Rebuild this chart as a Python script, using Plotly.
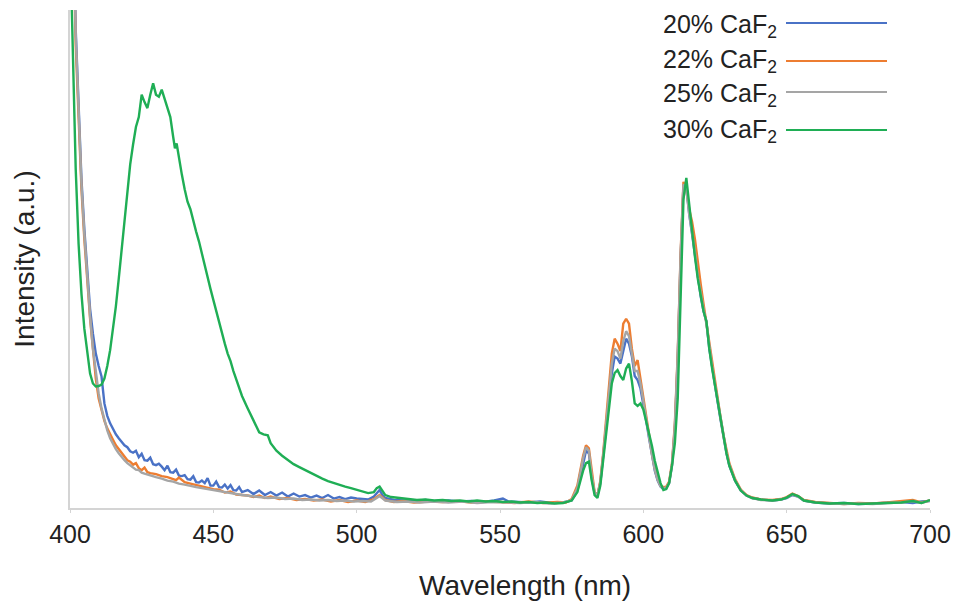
import plotly.graph_objects as go

# ---------------- data ----------------
series_names = ["20% CaF<sub>2</sub>", "22% CaF<sub>2</sub>", "25% CaF<sub>2</sub>", "30% CaF<sub>2</sub>"]
series_colors = ["#4a72c6", "#ed7d31", "#a5a5a5", "#1fae55"]

wl_20 = [400,401,402,403,404,405,406,407,408,409,410,411,412,413,414,415,416,417,418,419,420,421,422,423,424,425,426,427,428,429,430,431,432,433,434,435,436,437,438,439,440,441,442,443,444,445,446,447,448,449,450,451,452,453,454,455,456,457,458,459,460,462,464,466,468,470,472,474,476,478,480,482,484,486,488,490,492,494,496,498,500,502,504,506,507,508,509,510,513,516,520,524,528,532,536,540,544,548,551,553,556,560,564,568,572,575,577,579,580,581,582,583,584,585,586,587,588,589,590,591,592,593,594,595,596,597,598,599,600,601,602,603,604,605,606,607,608,609,610,611,612,613,614,615,616,617,618,619,620,621,622,623,624,625,626,627,628,629,630,632,634,636,638,641,645,648,650,652,654,656,660,665,670,675,680,685,690,694,697,700]
int_20 = [170,125,96,79,66,56,47,40,35,31,28.5,26.4,21,18.5,17,15.8,14.8,14,13.2,12.6,12.2,11.4,11.1,11.5,10.2,10.9,9.6,9.5,10.1,8.8,8.6,8.9,8.3,7.6,8.5,7.2,7.1,7.7,6.5,6.4,6.6,5.8,5.7,6.4,5.2,5.1,5.5,5.0,6.0,4.5,4.5,5.3,4.2,4.1,4.7,3.9,4.6,3.6,3.5,4.2,3.2,3.6,2.8,3.5,2.6,3.2,2.5,3.1,2.3,2.9,2.3,2.6,2.1,2.5,2.0,2.6,1.9,2.2,1.8,2.1,1.9,1.8,1.7,2.3,3.0,3.6,2.6,2.0,1.6,1.5,1.4,1.6,1.3,1.5,1.3,1.4,1.2,1.5,1.9,1.3,1.2,1.1,1.3,1.0,1.1,1.5,3.5,9,11.5,11,6,3,2.6,5,10,16,22,27,30.4,30,29,31.5,34,33,30.5,26.5,25.7,24,21,17.5,14,10.5,7.5,5.5,4.3,3.8,4.0,5,8.5,16,30,50,65,64.5,59,55,51,46,42.5,39.5,37.5,32,28,24.5,21,17.5,14,11,8.5,5.5,3.5,2.5,2,1.7,1.5,1.7,2.0,2.6,2.3,1.5,1.1,0.9,1.0,0.8,0.9,1.0,1.2,1.0,1.3,1.4]

wl_22 = [400,401,402,403,404,405,406,407,408,409,410,411,412,413,414,415,416,417,418,419,420,421,422,423,424,425,426,427,428,430,432,434,436,437,438,440,442,444,446,448,450,452,454,456,458,460,462,464,466,468,470,473,476,479,482,485,488,491,494,497,500,503,506,508,510,513,516,520,525,530,535,540,545,550,555,560,565,570,573,575,577,579,580,581,582,583,584,585,586,587,588,589,590,591,592,593,594,595,596,597,598,599,600,601,602,603,604,605,606,607,608,609,610,611,612,613,614,615,616,617,618,619,620,621,622,623,624,625,626,627,628,629,630,632,634,636,638,641,645,648,650,652,654,656,660,665,670,675,680,685,690,694,697,700]
int_22 = [160,120,93,77,64,54,45,38,32,26,22,19.5,17.5,16,14.7,13.7,12.6,11.8,11,10.3,9.6,9.3,8.7,9.0,8.0,7.6,8.1,7.2,7.0,6.8,6.4,6.2,5.8,5.6,6.1,5.2,4.9,4.6,4.4,4.0,3.8,3.7,3.1,3.3,2.7,2.6,2.5,2.2,2.5,2.0,2.3,1.8,2.0,1.6,1.8,1.5,1.7,1.3,1.6,1.2,1.5,1.2,1.8,2.6,1.6,1.2,1.4,1.1,1.3,1.2,1.4,1.1,1.3,1.2,1.0,1.3,1.0,1.2,1.1,1.8,4.5,10.5,12.6,12,7,3.2,2.5,5.5,11,18,25,31,34,33,31.5,37,38,37,32,28.5,29.7,26,22,18,14.5,11,8,5.8,4.5,4.2,4.3,5.3,9,17,31,51,65.5,64,60,57.5,54,49,45,41,37,33,29,25,21.5,18,14.5,11.5,9,5.8,3.7,2.6,2.1,1.7,1.6,1.8,2.2,2.9,2.4,1.6,1.2,1.0,0.8,1.0,0.9,1.1,1.3,1.6,1.1,1.5]

wl_25 = [400,401,402,403,404,405,406,407,408,409,410,411,412,413,414,415,416,417,418,419,420,421,422,423,424,425,426,428,430,432,434,436,438,440,442,444,446,448,450,452,454,456,458,460,463,466,469,472,475,478,481,484,487,490,493,496,499,502,505,507,508,510,514,518,522,527,532,537,542,547,552,557,562,567,572,575,577,579,580,581,582,583,584,585,586,587,588,589,590,591,592,593,594,595,596,597,598,599,600,601,602,603,604,605,606,607,608,609,610,611,612,613,614,615,616,617,618,619,620,621,622,623,624,625,626,627,628,629,630,632,634,636,638,641,645,648,650,652,654,656,660,665,670,675,680,685,690,694,697,700]
int_25 = [165,122,95,78,65,55,46,38.5,32,27,23,20,17.5,15.6,14,12.8,11.8,11,10.2,9.6,9.0,8.6,8.1,7.7,7.6,7.1,6.9,6.5,6.2,5.9,5.5,5.3,4.9,4.7,4.4,4.2,4.0,3.8,3.6,3.3,3.1,3.0,2.7,2.6,2.4,2.2,2.0,2.1,1.8,1.9,1.6,1.7,1.5,1.6,1.4,1.5,1.3,1.4,1.3,2.0,2.4,1.5,1.2,1.3,1.1,1.3,1.1,1.3,1.0,1.2,1.1,1.0,1.2,0.9,1.1,1.6,4,10,12.2,11.5,6.5,3.1,2.5,5.2,10.5,17,23.5,29,32,31.5,30,33.5,35.5,34.5,31,27.5,27.5,25,21.5,17.8,14.2,10.8,7.7,5.6,4.4,4.0,4.1,5.1,8.7,16.5,30.5,50.5,65,64,59,55.5,51.5,46.5,43,40,37,32.5,28.5,24.8,21.2,17.8,14.2,11.2,8.7,5.6,3.6,2.5,2.0,1.6,1.5,1.7,2.1,2.7,2.3,1.5,1.1,0.9,0.8,0.9,0.8,1.0,1.1,1.4,1.0,1.5]

wl_30 = [400,401,402,403,404,405,406,407,408,409,410,411,412,413,414,415,416,417,418,419,420,421,422,423,424,425,426,427,428,429,430,431,432,433,434,435,436,436.6,437.2,438,439,440,441,442,443,444,445,446,447,448,449,450,451,452,453,454,455,456,457,458,460,462,464,466,467.5,469,470,472,474,476,478,480,482,484,486,488,490,492,494,496,498,500,502,504,506,507,508,509,510,512,515,518,521,524,527,530,533,536,539,542,545,548,551,554,557,560,563,566,569,572,575,577,579,580,581,582,583,584,585,586,587,588,589,590,591,592,593,594,595,596,597,598,599,600,601,602,603,604,605,606,607,608,609,610,611,612,613,614,615,616,617,618,619,620,621,622,623,624,625,626,627,628,629,630,632,634,636,638,641,645,648,650,652,654,656,660,665,670,675,680,685,690,694,697,700]
int_30 = [115,92,68,53,43,36,31,27,25,24.4,24.5,24.8,26,28.5,31.7,36,40.5,46,52,58.5,64,69,73,76.5,78.5,83,81.5,80.3,83,85.3,83,82.6,84,82,80.5,78.5,74.5,72.2,73.2,70,67,64,61.5,60,57.5,55.5,53.5,51,48.5,46.5,44,41.8,39.5,37.5,35,33,31,29.5,27.5,25.7,22.5,20,17.5,15.2,14.8,14.6,13,11.5,10.5,9.7,8.8,8.2,7.6,7,6.4,5.9,5.4,5,4.7,4.3,4,3.7,3.3,3.0,3.2,4.0,4.3,3.4,2.6,2.2,2.0,1.8,1.6,1.7,1.5,1.6,1.4,1.5,1.3,1.5,1.3,1.4,1.2,1.3,1.1,1.2,1.0,1.1,0.9,1.0,1.5,3.2,7.5,9.0,9.3,5.5,2.6,2.0,4.5,9.6,15,21,25,27.1,27.7,26.5,25.7,28,29,25.5,21,20.5,21,19.8,17.5,15,12.5,9.5,7,5,3.6,3.8,5,8.5,13,22,42,62,66.3,61,55,50.5,46,42.5,39.5,37.5,32,28,24.5,21,17.5,14,11,8.5,5.5,3.5,2.5,2.0,1.7,1.5,1.7,2.1,2.8,2.4,1.5,1.1,0.9,1.0,0.8,0.9,1.0,1.1,1.4,1.0,1.6]

x_ticks = [400, 450, 500, 550, 600, 650, 700]
x_title = "Wavelength (nm)"
y_title = "Intensity (a.u.)"

# ---------------- figure ----------------
W, H = 964, 603
ML, MR, MT, MB = 70, 34, 10, 95
pw, ph = W - ML - MR, H - MT - MB
FONT = "Liberation Sans, Arial, sans-serif"

fig = go.Figure()
all_x = [wl_20, wl_22, wl_25, wl_30]
all_y = [int_20, int_22, int_25, int_30]
for name, col, xs, ys in zip(series_names, series_colors, all_x, all_y):
    fig.add_trace(go.Scatter(x=xs, y=ys, mode="lines", name=name,
                             line=dict(color=col, width=2.4), showlegend=False))

# legend drawn manually: text at left, line sample at right
leg_text_px = [26, 61, 95, 131]
leg_line_px = [23, 61, 92, 130]
for name, col, ty, ly in zip(series_names, series_colors, leg_text_px, leg_line_px):
    fig.add_annotation(xref="paper", yref="paper", x=(779 - ML) / pw, y=(H - MB - ty) / ph,
                       text=name, showarrow=False, xanchor="right", yanchor="middle",
                       font=dict(family=FONT, size=25, color="#222"))
    yl = (H - MB - ly) / ph
    fig.add_shape(type="line", xref="paper", yref="paper",
                  x0=(786 - ML) / pw, x1=(887 - ML) / pw, y0=yl, y1=yl,
                  line=dict(color=col, width=2))

# x-axis title (placed slightly right of centre, as in the reference)
fig.add_annotation(xref="paper", yref="paper", x=(525 - ML) / pw, y=(H - MB - 585) / ph,
                   text=x_title, showarrow=False, xanchor="center", yanchor="middle",
                   font=dict(family=FONT, size=28, color="#222"))

fig.update_layout(
    width=W, height=H,
    margin=dict(l=ML, r=MR, t=MT, b=MB),
    paper_bgcolor="white", plot_bgcolor="white",
    font=dict(family=FONT, color="#222"),
)
fig.update_xaxes(range=[400, 700], tickvals=x_ticks, ticktext=[str(v) for v in x_ticks],
                 showgrid=False, zeroline=False, showline=True, linecolor="#d4d4d4", linewidth=2,
                 ticks="outside", ticklen=3, tickcolor="#d4d4d4", ticklabelstandoff=0,
                 tickfont=dict(size=25, color="#222"), automargin=False)
fig.update_yaxes(range=[0, 100], showticklabels=False, showgrid=False, zeroline=False,
                 showline=True, linecolor="#d4d4d4", linewidth=2, ticks="", automargin=False,
                 title=dict(text=y_title, font=dict(size=28, color="#222"), standoff=25))

fig.write_html("out.html")
